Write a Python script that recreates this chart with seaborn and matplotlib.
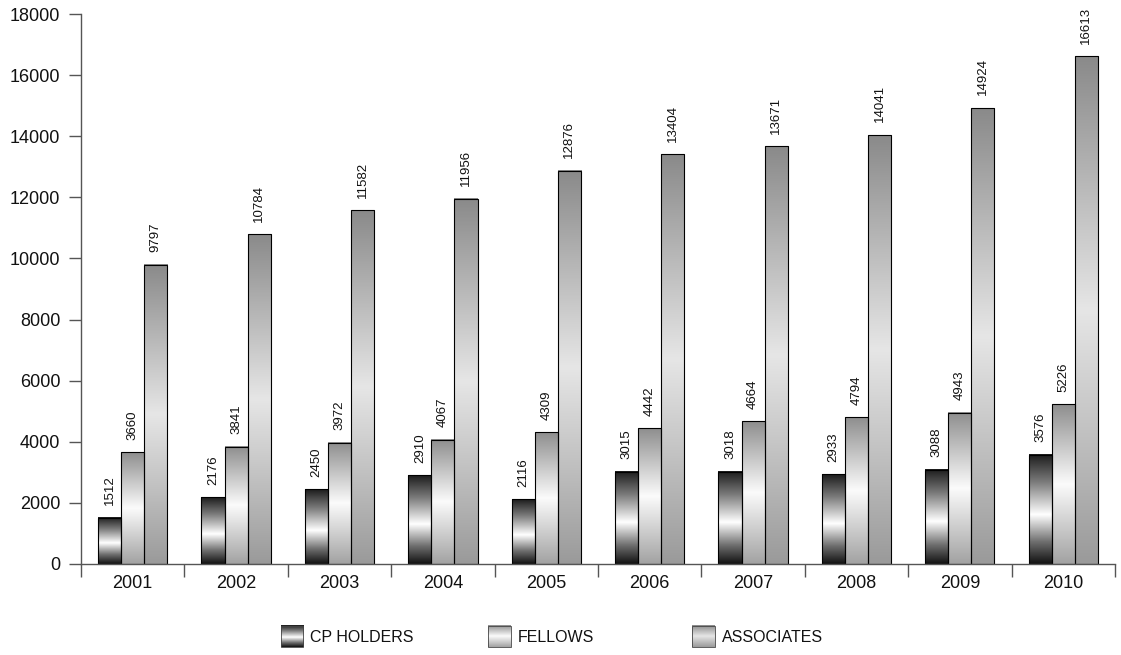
import numpy as np
import pandas as pd
import matplotlib
matplotlib.use("Agg")
import matplotlib.pyplot as plt
import seaborn as sns
from matplotlib.colors import LinearSegmentedColormap
from matplotlib.legend_handler import HandlerBase
from matplotlib.image import BboxImage
from matplotlib.transforms import Bbox, TransformedBbox
from matplotlib.patches import Rectangle, Patch
from matplotlib.ticker import FixedLocator

# Datos
years = ["2001", "2002", "2003", "2004", "2005", "2006", "2007", "2008", "2009", "2010"]
cp_holders = [1512, 2176, 2450, 2910, 2116, 3015, 3018, 2933, 3088, 3576]
fellows = [3660, 3841, 3972, 4067, 4309, 4442, 4664, 4794, 4943, 5226]
associates = [9797, 10784, 11582, 11956, 12876, 13404, 13671, 14041, 14924, 16613]
series = ["CP HOLDERS", "FELLOWS", "ASSOCIATES"]

df = pd.DataFrame({
    "year": years * 3,
    "value": cp_holders + fellows + associates,
    "group": [s for s in series for _ in years],
})

# Degradados verticales (arriba -> abajo)
grads = {
    "CP HOLDERS": LinearSegmentedColormap.from_list("cp", [
        (0.0, "#1c1c1c"), (0.25, "#7a7a7a"), (0.55, "#ffffff"), (0.8, "#6e6e6e"), (1.0, "#111111")]),
    "FELLOWS": LinearSegmentedColormap.from_list("fe", [
        (0.0, "#8e8e8e"), (0.5, "#fbfbfb"), (1.0, "#a2a2a2")]),
    "ASSOCIATES": LinearSegmentedColormap.from_list("as", [
        (0.0, "#8a8a8a"), (0.5, "#e6e6e6"), (1.0, "#9a9a9a")]),
}
grad = np.linspace(0, 1, 256).reshape(-1, 1)

sns.set_style("white")
plt.rcParams["font.family"] = ["Liberation Sans", "DejaVu Sans"]
plt.rcParams["text.color"] = "#111111"
plt.rcParams["xtick.color"] = "#111111"
plt.rcParams["ytick.color"] = "#111111"

fig = plt.figure(figsize=(11.21, 6.55), dpi=100)
ax = fig.add_axes([0.0723, 0.139, 0.9223, 0.8396])

sns.barplot(data=df, x="year", y="value", hue="group", hue_order=series,
            width=0.67, gap=0, palette=["#888888"] * 3, edgecolor="black",
            linewidth=0.8, legend=False, ax=ax)

for name, cont in zip(series, ax.containers):
    for bar in cont:
        x, w, h = bar.get_x(), bar.get_width(), bar.get_height()
        ax.imshow(grad, extent=[x, x + w, 0, h], aspect="auto",
                  cmap=grads[name], vmin=0, vmax=1, zorder=1)
        bar.set_facecolor("none")
        bar.set_zorder(2)
        ax.annotate(f"{int(h)}", (x + w / 2, h), xytext=(0, 9),
                    textcoords="offset points", rotation=90,
                    ha="center", va="bottom", fontsize=9.5)

ax.set_xlim(-0.5, len(years) - 0.5)
ax.set_ylim(0, 18000)
ax.set_yticks(range(0, 18001, 2000))
ax.set_xlabel("")
ax.set_ylabel("")

for side in ["top", "right"]:
    ax.spines[side].set_visible(False)
for side in ["left", "bottom"]:
    ax.spines[side].set_color("#555555")
    ax.spines[side].set_linewidth(1)

ax.tick_params(axis="y", length=9, width=1, color="#555555", labelsize=13, pad=6, left=True)
ax.tick_params(axis="x", which="major", length=0, labelsize=13, pad=8)
ax.xaxis.set_minor_locator(FixedLocator(np.arange(-0.5, len(years), 1)))
ax.tick_params(axis="x", which="minor", length=9, width=1, color="#555555", bottom=True)


# Leyenda con degradado
class GradientHandler(HandlerBase):
    def create_artists(self, legend, orig_handle, xdescent, ydescent,
                       width, height, fontsize, trans):
        bb = TransformedBbox(Bbox.from_bounds(-xdescent, -ydescent, width, height), trans)
        img = BboxImage(bb, cmap=grads[orig_handle.get_label()], norm=plt.Normalize(0, 1))
        img.set_data(grad)
        rect = Rectangle((-xdescent, -ydescent), width, height, facecolor="none",
                         edgecolor="#444444", linewidth=0.6, transform=trans)
        return [img, rect]


legend_x = [0.2505, 0.4355, 0.6175]
for s, lx in zip(series, legend_x):
    leg = fig.legend(handles=[Patch(label=s)], labels=[s], loc="center left",
                     bbox_to_anchor=(lx, 0.028), frameon=False, fontsize=11.5,
                     handlelength=1.4, handleheight=1.7, handletextpad=0.45,
                     borderpad=0, borderaxespad=0,
                     handler_map={Patch: GradientHandler()})

fig.savefig("out.png", dpi=100)
